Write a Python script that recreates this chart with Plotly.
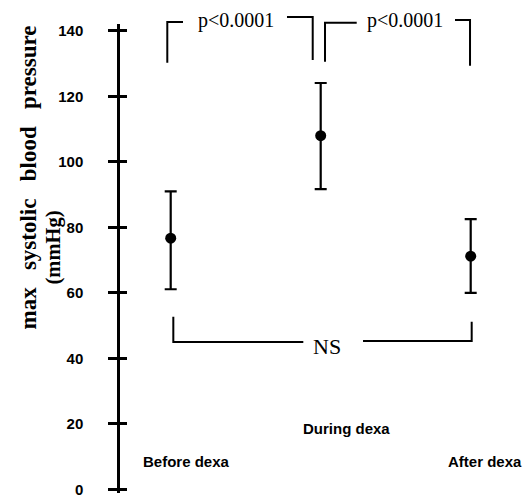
import plotly.graph_objects as go

# ---- data ----
categories = ["Before dexa", "During dexa", "After dexa"]
mean_sbp = [76.7, 108.0, 71.2]
upper_sbp = [91.0, 124.1, 82.5]
lower_sbp = [61.1, 91.7, 60.0]
y_ticks = [0, 20, 40, 60, 80, 100, 120, 140]
comparisons = ["p<0.0001", "p<0.0001", "NS"]

x_idx = list(range(len(categories)))
err_plus = [u - m for u, m in zip(upper_sbp, mean_sbp)]
err_minus = [m - l for m, l in zip(mean_sbp, lower_sbp)]

W, H = 527, 497
ML, MR, MT, MB = 120, 0, 24, 4
PW, PH = W - ML - MR, H - MT - MB

def px(x):
    return (x - ML) / PW

def py(y):
    return (H - MB - y) / PH

SANS = "Liberation Sans, Arial, sans-serif"
SERIF = "Liberation Serif, Times New Roman, serif"

fig = go.Figure()
fig.add_trace(go.Scatter(
    x=x_idx, y=mean_sbp, mode="markers",
    marker=dict(color="black", size=11),
    error_y=dict(type="data", symmetric=False, array=err_plus, arrayminus=err_minus,
                 color="black", thickness=2.2, width=6),
    showlegend=False, hoverinfo="skip",
))
# helper trace so the overlaid axis (inner half of the crossing ticks) is drawn
fig.add_trace(go.Scatter(
    x=x_idx, y=mean_sbp, yaxis="y2", mode="markers",
    marker=dict(color="rgba(0,0,0,0)", size=1),
    showlegend=False, hoverinfo="skip",
))

line = dict(color="black", width=2)
brackets = [
    [(167.3, 62.7), (167.3, 22), (183, 22)],
    [(287, 17), (312.7, 17), (312.7, 60)],
    [(325, 61.7), (325, 22.7), (356.7, 22.7)],
    [(455, 20), (470, 20), (470, 65.7)],
    [(173.3, 316.7), (173.3, 342), (303.3, 342)],
    [(363, 341), (471.7, 341), (471.7, 321.7)],
]
shapes = []
for pts in brackets:
    path = "M " + " L ".join(f"{px(a):.4f},{py(b):.4f}" for a, b in pts)
    shapes.append(dict(type="path", xref="paper", yref="paper", path=path, line=line))

annotations = [
    dict(x=px(236), y=py(21), text=comparisons[0], font=dict(family=SERIF, size=20, color="black")),
    dict(x=px(405), y=py(21), text=comparisons[1], font=dict(family=SERIF, size=20, color="black")),
    dict(x=px(326.5), y=py(346), text=comparisons[2], font=dict(family=SERIF, size=22, color="black")),
    dict(x=px(186), y=py(461), text=categories[0], font=dict(family=SANS, size=15, color="black", weight="bold")),
    dict(x=px(346), y=py(428), text=categories[1], font=dict(family=SANS, size=15, color="black", weight="bold")),
    dict(x=px(484.5), y=py(461), text=categories[2], font=dict(family=SANS, size=15, color="black", weight="bold")),
    dict(x=px(28), y=py(177.5), text="max   systolic   blood   pressure", textangle=-90,
         font=dict(family=SERIF, size=23, color="black", weight="bold")),
    dict(x=px(52.5), y=py(248), text="(mmHg)", textangle=-90,
         font=dict(family=SERIF, size=20.5, color="black", weight="bold")),
]
for a in annotations:
    a.update(xref="paper", yref="paper", showarrow=False, xanchor="center", yanchor="middle")

y_lo = -(H - MB - 489.3) / 3.274
y_hi = (489.3 - MT) / 3.274

fig.update_layout(
    width=W, height=H, autosize=False,
    margin=dict(l=ML, r=MR, t=MT, b=MB, pad=0),
    paper_bgcolor="white", plot_bgcolor="white",
    xaxis=dict(range=[-(170.7 - ML) / 150, (W - 170.7) / 150], visible=False),
    yaxis=dict(range=[y_lo, y_hi], tickvals=y_ticks, ticktext=[str(t) for t in y_ticks],
               showgrid=False, zeroline=False, showline=True, linecolor="black", linewidth=2.5,
               ticks="outside", ticklen=9, tickwidth=3, tickcolor="black",
               ticklabelstandoff=22, ticklabeloverflow="allow",
               tickfont=dict(family=SANS, size=15, color="black", weight="bold")),
    yaxis2=dict(range=[y_lo, y_hi], overlaying="y", side="left", anchor="x",
                tickvals=y_ticks, showticklabels=False, showgrid=False, zeroline=False,
                showline=False, ticks="inside", ticklen=7, tickwidth=3, tickcolor="black"),
    shapes=shapes, annotations=annotations,
)

fig.write_html("out.html", config={"displayModeBar": False},
               post_script="document.body.style.margin='0';")
